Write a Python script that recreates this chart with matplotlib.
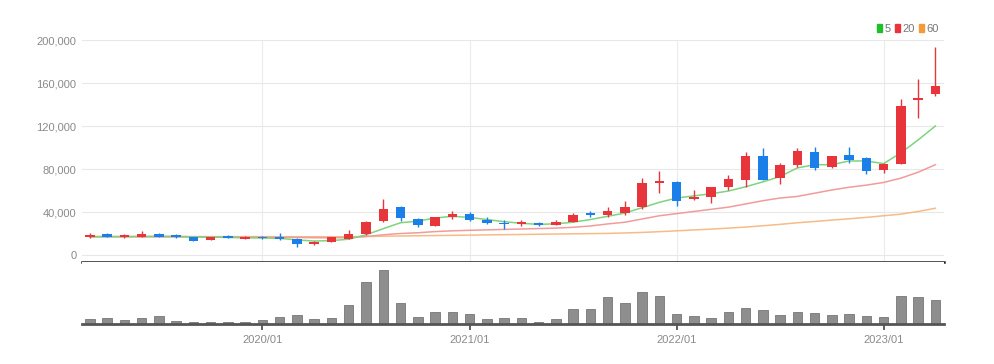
import numpy as np
import matplotlib
matplotlib.use("Agg")
import matplotlib.pyplot as plt
from matplotlib.patches import Patch
from matplotlib.ticker import FuncFormatter

plt.rcParams['font.family'] = ['Liberation Sans Narrow', 'Liberation Sans', 'DejaVu Sans']

# monthly candles 2019/03 - 2023/04 (values in thousands)
opens = [16.6, 19.4, 16.6, 17.2, 19.4, 18.4, 16.6, 14.0, 17.8, 15.3,
         17.2, 16.6, 15.3, 10.0, 12.2, 15.3, 19.7, 32.0, 44.7, 33.7,
         27.2, 35.0, 38.4, 32.5, 29.7, 28.8, 29.4, 27.8, 30.9, 39.0,
         36.9, 39.5, 44.4, 67.4, 68.0, 51.9, 54.4, 63.0, 69.9, 91.7,
         71.5, 83.6, 96.0, 81.7, 93.2, 89.8, 79.2, 84.2, 143.8, 149.4]
highs = [20.3, 20.3, 19.4, 21.9, 20.9, 19.1, 17.0, 16.9, 18.2, 17.5,
         17.8, 20.3, 16.0, 13.0, 16.9, 23.4, 31.6, 52.2, 45.6, 34.4,
         35.6, 40.6, 40.3, 35.0, 32.8, 32.2, 30.3, 32.2, 39.0, 40.6,
         44.7, 50.6, 71.5, 78.6, 69.3, 60.6, 63.0, 74.2, 95.4, 99.7,
         86.0, 99.4, 100.4, 92.3, 100.4, 91.0, 86.0, 145.0, 163.7, 193.5]
lows = [15.6, 16.6, 16.0, 16.6, 16.6, 15.6, 12.8, 13.5, 15.6, 15.0,
        15.3, 14.0, 7.2, 9.4, 11.9, 15.0, 18.8, 30.6, 32.0, 26.5,
        26.9, 33.4, 31.6, 28.4, 24.0, 27.2, 27.2, 27.5, 30.3, 35.3,
        35.3, 37.3, 43.2, 58.1, 45.7, 51.3, 48.2, 60.6, 63.0, 69.9,
        65.6, 82.3, 79.2, 80.5, 85.4, 75.5, 76.1, 84.2, 127.4, 147.6]
closes = [18.7, 17.2, 18.4, 19.4, 17.2, 16.6, 13.4, 16.6, 15.9, 17.2,
          15.6, 14.7, 10.3, 12.5, 16.6, 19.4, 30.6, 43.0, 34.7, 28.0,
          35.3, 38.4, 32.2, 29.7, 28.8, 30.3, 27.8, 30.9, 37.5, 37.2,
          40.6, 44.7, 67.4, 69.3, 50.6, 54.4, 63.0, 71.1, 91.7, 69.9,
          83.6, 97.2, 81.1, 92.3, 88.5, 78.0, 84.2, 138.9, 146.0, 156.9]
volumes = [15, 17, 12, 18, 23, 8, 5, 7, 5, 5,
           11, 21, 27, 15, 18, 58, 127, 162, 62, 20,
           36, 37, 30, 15, 17, 17, 7, 15, 45, 45,
           82, 62, 95, 85, 30, 25, 17, 35, 48, 42,
           28, 35, 32, 27, 30, 25, 20, 85, 80, 72]
ma5 = [17.0, 17.1, 17.1, 17.3, 17.4, 17.3, 16.9, 16.6, 16.3, 16.0,
       15.8, 15.5, 14.0, 13.0, 13.4, 14.7, 18.8, 24.5, 30.0, 31.5,
       34.4, 36.0, 35.0, 33.0, 31.0, 29.5, 28.5, 29.0, 30.5, 33.0,
       36.0, 39.0, 44.0, 49.0, 53.0, 55.0, 57.0, 59.5, 63.5, 68.0,
       73.0, 81.0, 84.0, 84.0, 87.5, 87.5, 85.0, 95.0, 107.0, 120.0]
ma20 = [17.0, 17.0, 17.0, 16.9, 16.9, 16.8, 16.8, 16.7, 16.7, 16.6,
        16.6, 16.5, 16.3, 16.1, 16.0, 16.2, 17.2, 18.8, 20.0, 20.7,
        21.8, 22.5, 23.0, 23.4, 23.8, 24.2, 24.6, 25.0, 25.8, 27.0,
        28.9, 30.5, 33.5, 36.5, 38.5, 40.5, 42.5, 44.5, 47.5, 50.5,
        53.0, 54.5, 57.5, 60.5, 63.0, 65.0, 67.5, 71.5, 77.0, 84.0]
ma60 = [17.2, 17.2, 17.2, 17.2, 17.2, 17.2, 17.2, 17.1, 17.1, 17.1,
        17.1, 17.0, 17.0, 17.0, 17.0, 17.0, 17.2, 17.5, 17.7, 17.9,
        18.1, 18.3, 18.5, 18.7, 18.9, 19.1, 19.3, 19.5, 19.7, 19.9,
        20.1, 20.5, 21.0, 21.7, 22.5, 23.3, 24.1, 25.0, 26.0, 27.2,
        28.5, 30.0, 31.2, 32.5, 33.7, 35.0, 36.5, 38.0, 40.5, 43.5]
year_ticks = {10: '2020/01', 22: '2021/01', 34: '2022/01', 46: '2023/01'}

up_c = '#e8343b'
down_c = '#1a7fe8'
lab_c = '#8a8a8a'

x = np.arange(len(opens))
o = np.array(opens) * 1000
h = np.array(highs) * 1000
l = np.array(lows) * 1000
c = np.array(closes) * 1000
colors = [up_c if cc >= oo else down_c for oo, cc in zip(o, c)]

fig = plt.figure(figsize=(9.95, 3.64), dpi=100)
ax = fig.add_axes([82 / 995, 1 - 262 / 364, 862 / 995, 222 / 364])
axv = fig.add_axes([82 / 995, 1 - 324 / 364, 862 / 995, 62 / 364])

# grid
for k in year_ticks:
    ax.axvline(k, color='#ececec', lw=0.8, zorder=0)
ax.set_yticks(np.arange(0, 200001, 40000))
ax.yaxis.grid(True, color='#e8e8e8', lw=0.8)
ax.set_axisbelow(True)

# moving averages
ax.plot(x, np.array(ma60) * 1000, color='#f6bb88', lw=1.1, zorder=2)
ax.plot(x, np.array(ma20) * 1000, color='#f29b9b', lw=1.1, zorder=2)
ax.plot(x, np.array(ma5) * 1000, color='#7ed37e', lw=1.1, zorder=2)

# candles
ax.vlines(x, l, h, colors=colors, lw=1.0, zorder=3)
body = np.maximum(np.abs(c - o), 900)
bottom = np.minimum(o, c)
ax.bar(x, body, bottom=bottom, width=0.55, color=colors, zorder=4)

ax.set_xlim(-0.46, 49.5)
ax.set_ylim(-6500, 200000)
ax.set_xticks([])
ax.yaxis.set_major_formatter(FuncFormatter(lambda v, p: f'{int(v):,}'))
ax.tick_params(axis='y', length=0, pad=4, labelsize=8, labelcolor=lab_c)
for s in ['top', 'right', 'left']:
    ax.spines[s].set_visible(False)
ax.spines['bottom'].set_color('#222222')
ax.spines['bottom'].set_linewidth(1.8)

# volume
axv.bar(x, volumes, width=0.55, color='#8e8e8e', edgecolor='#777777', lw=0.6)
axv.set_xlim(-0.46, 49.5)
axv.set_ylim(0, 186)
axv.set_yticks([])
axv.set_xticks(list(year_ticks.keys()))
axv.set_xticklabels(list(year_ticks.values()))
axv.tick_params(axis='x', length=4, width=1.2, color='#444444',
                labelsize=8, labelcolor=lab_c, pad=4)
for s in ['top', 'right', 'left']:
    axv.spines[s].set_visible(False)
axv.spines['bottom'].set_color('#555555')
axv.spines['bottom'].set_linewidth(2)

handles = [Patch(color='#1fbf2a', label='5'),
           Patch(color='#e8343b', label='20'),
           Patch(color='#f39a3a', label='60')]
leg = fig.legend(handles=handles, loc='upper right', bbox_to_anchor=(944 / 995, 1 - 18 / 364),
                 ncol=3, frameon=False, handlelength=0.45, handleheight=0.8,
                 handletextpad=0.2, columnspacing=0.4, fontsize=8, borderpad=0)
for t in leg.get_texts():
    t.set_color('#777777')

fig.savefig('out.png', dpi=100, facecolor='white')
